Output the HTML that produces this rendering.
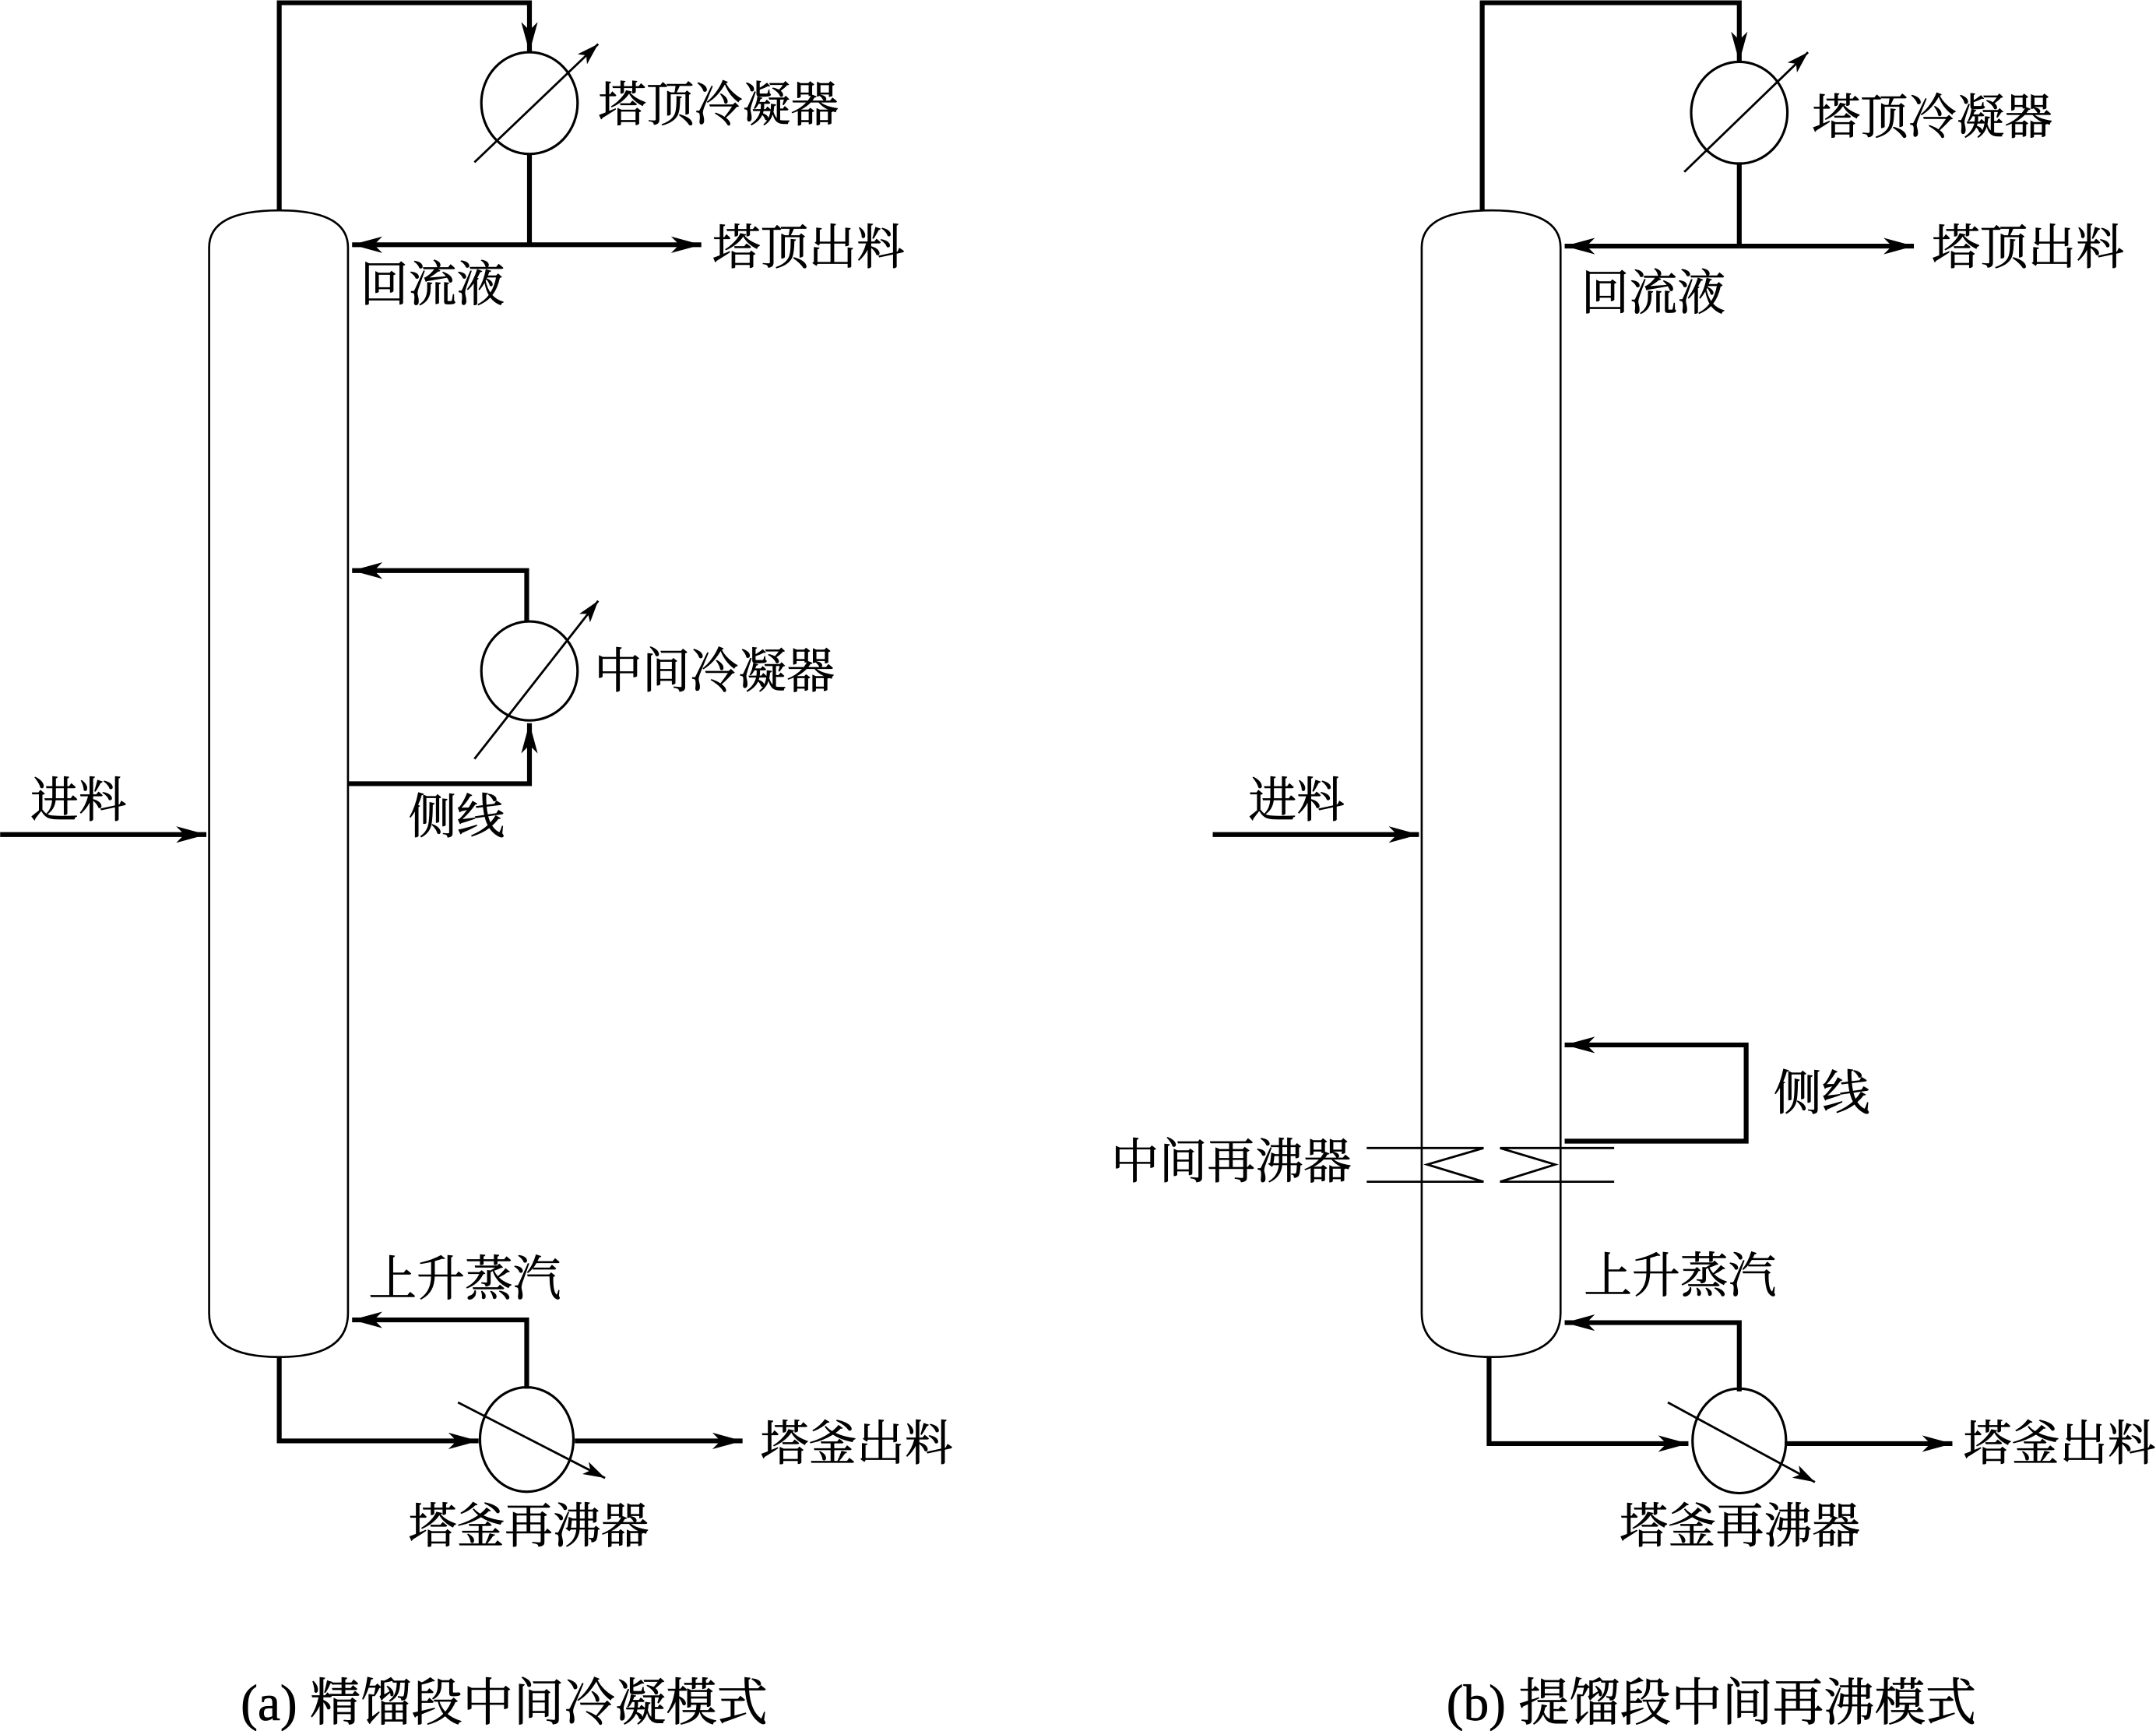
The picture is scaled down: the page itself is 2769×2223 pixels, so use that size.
<!DOCTYPE html>
<html><head><meta charset="utf-8"><style>
html,body{margin:0;padding:0;background:#fff;}
svg{display:block;}
text{font-family:"Liberation Serif","Noto Serif CJK SC","Noto Sans CJK SC",serif;font-size:35px;fill:#000;stroke:#000;stroke-width:0.4;}
</style></head><body>
<svg width="2769" height="2223" viewBox="0 0 1568 1259" xmlns="http://www.w3.org/2000/svg">
<defs>
<marker id="a" markerWidth="24" markerHeight="12" refX="22" refY="6" orient="auto" markerUnits="userSpaceOnUse">
<path d="M0,0 L22,6 L0,12 L6,6 Z" fill="#000"/></marker>
<marker id="s" markerWidth="18" markerHeight="10" refX="16" refY="5" orient="auto" markerUnits="userSpaceOnUse">
<path d="M0,0 L16,5 L0,10 L4,5 Z" fill="#000"/></marker>
</defs>
<g fill="none" stroke="#000">
<!-- LEFT -->
<path d="M152,180 Q152,153 203,153 Q253,153 253,180 L253,955 Q253,987 203,987 Q152,987 152,955 Z" stroke-width="1.5"/>
<g stroke-width="3.5">
<path d="M203,153 L203,2 L385,2 L385,38" marker-end="url(#a)"/>
<path d="M385,112 L385,178"/>
<path d="M385,178 L256,178" marker-end="url(#a)"/>
<path d="M385,178 L510,178" marker-end="url(#a)"/>
<path d="M383,452 L383,415 L256,415" marker-end="url(#a)"/>
<path d="M253,570 L385,570 L385,526" marker-end="url(#a)"/>
<path d="M0,607 L150,607" marker-end="url(#a)"/>
<path d="M383,1010 L383,960 L256,960" marker-end="url(#a)"/>
<path d="M203,987 L203,1048 L348,1048" marker-end="url(#a)"/>
<path d="M418,1048 L540,1048" marker-end="url(#a)"/>
</g>
<ellipse cx="385" cy="75" rx="35" ry="37" stroke-width="1.8"/>
<ellipse cx="385" cy="488" rx="35" ry="36" stroke-width="1.8"/>
<ellipse cx="383" cy="1047" rx="34" ry="38" stroke-width="1.8"/>
<g stroke-width="1.6">
<path d="M345,118 L435,32" marker-end="url(#s)"/>
<path d="M345,552 L435,437" marker-end="url(#s)"/>
<path d="M333,1020 L440,1075" marker-end="url(#s)"/>
</g>
<!-- RIGHT -->
<path d="M1034,180 Q1034,153 1085,153 Q1135,153 1135,180 L1135,955 Q1135,987 1085,987 Q1034,987 1034,955 Z" stroke-width="1.5"/>
<g stroke-width="3.5">
<path d="M1078,153 L1078,2 L1265,2 L1265,45" marker-end="url(#a)"/>
<path d="M1265,118 L1265,179"/>
<path d="M1265,179 L1138,179" marker-end="url(#a)"/>
<path d="M1265,179 L1392,179" marker-end="url(#a)"/>
<path d="M1138,830 L1270,830 L1270,760 L1138,760" marker-end="url(#a)"/>
<path d="M882,607 L1032,607" marker-end="url(#a)"/>
<path d="M1265,1012 L1265,962 L1138,962" marker-end="url(#a)"/>
<path d="M1083,987 L1083,1050 L1228,1050" marker-end="url(#a)"/>
<path d="M1298,1050 L1420,1050" marker-end="url(#a)"/>
</g>
<ellipse cx="1265" cy="82" rx="35" ry="37" stroke-width="1.8"/>
<ellipse cx="1265" cy="1048" rx="34" ry="38" stroke-width="1.8"/>
<g stroke-width="1.6">
<path d="M1225,125 L1315,38" marker-end="url(#s)"/>
<path d="M1213,1020 L1320,1078" marker-end="url(#s)"/>
<path d="M994,835 L1079,835 L1038,847 L1079,859.5 L994,859.5"/>
<path d="M1174,835 L1091,835 L1131,847 L1091,859.5 L1174,859.5"/>
</g>
</g>
<text x="435" y="88">塔顶冷凝器</text>
<text x="518" y="192">塔顶出料</text>
<text x="262" y="219">回流液</text>
<text x="432" y="500">中间冷凝器</text>
<text x="297" y="606">侧线</text>
<text x="22" y="594">进料</text>
<text x="268" y="942">上升蒸汽</text>
<text x="553" y="1062">塔釜出料</text>
<text x="297" y="1122">塔釜再沸器</text>
<text x="175" y="1251" style="font-size:37px">(a) 精馏段中间冷凝模式</text>
<text x="1318" y="97">塔顶冷凝器</text>
<text x="1405" y="192">塔顶出料</text>
<text x="1150" y="225">回流液</text>
<text x="908" y="594">进料</text>
<text x="1290" y="807">侧线</text>
<text x="808" y="857">中间再沸器</text>
<text x="1152" y="940">上升蒸汽</text>
<text x="1428" y="1062">塔釜出料</text>
<text x="1178" y="1122">塔釜再沸器</text>
<text x="1052" y="1251" style="font-size:37px">(b) 提馏段中间再沸模式</text>
</svg>
</body></html>
